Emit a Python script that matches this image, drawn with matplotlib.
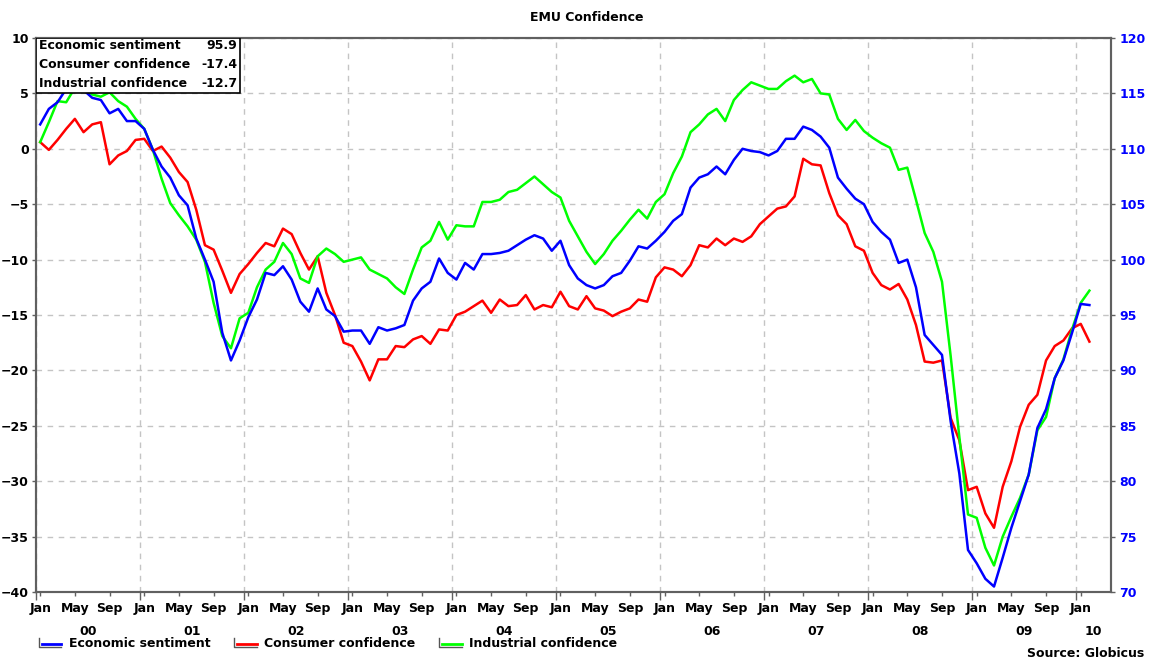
import matplotlib
matplotlib.use("Agg")
import matplotlib.pyplot as plt
import matplotlib.transforms as mtransforms
from matplotlib.lines import Line2D
from matplotlib.legend_handler import HandlerBase
from matplotlib.patches import Rectangle
import numpy as np

# monthly values, Jan 2000 - Feb 2010
esi = [
    112.2, 113.6, 114.2, 115.4, 115.6, 115.3, 114.6, 114.4, 113.2, 113.6, 112.5, 112.5,
    111.8, 109.9, 108.4, 107.4, 105.8, 104.9, 101.9, 100.0, 98.0, 93.4, 90.9, 92.7,
    94.8, 96.4, 98.8, 98.6, 99.4, 98.2, 96.2, 95.3, 97.4, 95.5, 94.9, 93.5,
    93.6, 93.6, 92.4, 93.9, 93.6, 93.8, 94.1, 96.3, 97.4, 98.0, 100.1, 98.8,
    98.2, 99.7, 99.1, 100.5, 100.5, 100.6, 100.8, 101.3, 101.8, 102.2, 101.9, 100.8,
    101.7, 99.5, 98.3, 97.7, 97.4, 97.7, 98.5, 98.8, 99.9, 101.2, 101.0, 101.7,
    102.5, 103.5, 104.1, 106.5, 107.4, 107.7, 108.4, 107.7, 109.0, 110.0, 109.8, 109.7,
    109.4, 109.8, 110.9, 110.9, 112.0, 111.7, 111.1, 110.1, 107.4, 106.4, 105.5, 105.0,
    103.4, 102.5, 101.8, 99.7, 100.0, 97.5, 93.2, 92.3, 91.4, 85.4, 80.7, 73.8,
    72.6, 71.2, 70.5, 73.1, 75.8, 78.2, 80.6, 84.8, 86.5, 89.3, 90.9, 93.4,
    96.0, 95.9,
]
consumer = [
    0.6, -0.1, 0.8, 1.8, 2.7, 1.5, 2.2, 2.4, -1.4, -0.6, -0.2, 0.8,
    0.9, -0.2, 0.2, -0.8, -2.1, -3.0, -5.5, -8.7, -9.1, -11.0, -13.0, -11.3,
    -10.4, -9.4, -8.5, -8.8, -7.2, -7.7, -9.4, -10.9, -9.7, -13.0, -15.0, -17.5,
    -17.8, -19.2, -20.9, -19.0, -19.0, -17.8, -17.9, -17.2, -16.9, -17.6, -16.3, -16.4,
    -15.0, -14.7, -14.2, -13.7, -14.8, -13.6, -14.2, -14.1, -13.2, -14.5, -14.1, -14.3,
    -12.9, -14.2, -14.5, -13.3, -14.4, -14.6, -15.1, -14.7, -14.4, -13.6, -13.8, -11.6,
    -10.7, -10.9, -11.5, -10.5, -8.7, -8.9, -8.1, -8.7, -8.1, -8.4, -7.9, -6.8,
    -6.1, -5.4, -5.2, -4.3, -0.9, -1.4, -1.5, -4.0, -6.0, -6.8, -8.8, -9.2,
    -11.2, -12.3, -12.7, -12.2, -13.6, -15.9, -19.2, -19.3, -19.1, -24.3, -26.3, -30.8,
    -30.5, -32.9, -34.2, -30.5, -28.2, -25.1, -23.1, -22.2, -19.1, -17.8, -17.3, -16.2,
    -15.8, -17.4,
]
industrial = [
    0.6, 2.4, 4.3, 4.2, 5.5, 5.4, 4.9, 4.7, 5.1, 4.3, 3.8, 2.7,
    1.8, -0.1, -2.7, -4.9, -6.0, -7.0, -8.2, -10.2, -13.9, -16.9, -18.0, -15.3,
    -14.8, -12.5, -10.9, -10.2, -8.5, -9.5, -11.7, -12.1, -9.7, -9.0, -9.5, -10.2,
    -10.0, -9.8, -10.9, -11.3, -11.7, -12.5, -13.1, -10.9, -8.9, -8.3, -6.6, -8.2,
    -6.9, -7.0, -7.0, -4.8, -4.8, -4.6, -3.9, -3.7, -3.1, -2.5, -3.2, -3.9,
    -4.4, -6.5, -7.9, -9.3, -10.4, -9.5, -8.3, -7.4, -6.4, -5.5, -6.3, -4.8,
    -4.1, -2.2, -0.7, 1.5, 2.2, 3.1, 3.6, 2.5, 4.4, 5.3, 6.0, 5.7,
    5.4, 5.4, 6.1, 6.6, 6.0, 6.3, 5.0, 4.9, 2.7, 1.7, 2.6, 1.6,
    1.0, 0.5, 0.1, -1.9, -1.7, -4.6, -7.6, -9.3, -12.0, -18.7, -26.0, -33.0,
    -33.3, -36.0, -37.6, -35.0, -33.2, -31.5, -29.4, -25.4, -24.2, -20.7, -19.0, -16.3,
    -13.9, -12.8,
]
month_labels = ["Jan", "May", "Sep"]
year_labels = ["00", "01", "02", "03", "04", "05", "06", "07", "08", "09", "10"]
series_names = ["Economic sentiment", "Consumer confidence", "Industrial confidence"]
latest_values = ["95.9", "-17.4", "-12.7"]

BLUE = "#0000ff"
RED = "#ff0000"
GREEN = "#00ff00"
GRID = "#c4c4c4"
FRAME = "#606060"

plt.rcParams["font.family"] = "DejaVu Sans"
plt.rcParams["font.weight"] = "bold"
plt.rcParams["font.size"] = 9


class BracketHandler(HandlerBase):
    # coloured line with a small grey bracket, like the original legend keys
    def create_artists(self, legend, orig_handle, xdescent, ydescent,
                       width, height, fontsize, trans):
        x0, y0 = -xdescent, -ydescent
        frame = Line2D([x0, x0, x0 + width], [y0 + height, y0, y0],
                       color="#555555", lw=1, transform=trans)
        line = Line2D([x0 + 2, x0 + width], [y0 + 0.3 * height] * 2,
                      color=orig_handle.get_color(), lw=2, transform=trans)
        return [frame, line]


months = np.arange(len(esi)) + 0.5
xmax = 124

fig, ax = plt.subplots(figsize=(11.49, 6.66), dpi=100)
fig.subplots_adjust(left=0.0312, right=0.967, top=0.943, bottom=0.111)
ax2 = ax.twinx()

l_con, = ax.plot(months, consumer, color=RED, lw=1.8)
l_ind, = ax.plot(months, industrial, color=GREEN, lw=1.8)
l_esi, = ax2.plot(months, esi, color=BLUE, lw=1.8)

ax.set_xlim(0, xmax)
ax.set_ylim(-40, 10)
ax2.set_ylim(70, 120)
ax.set_yticks(range(-40, 11, 5))
ax2.set_yticks(range(70, 121, 5))

# month ticks in the middle of Jan / May / Sep, long ticks at year boundaries
pos, labs = [], []
for y in range(len(year_labels)):
    for k, name in zip((0, 4, 8), month_labels):
        p = y * 12 + k + 0.5
        if p < xmax:
            pos.append(p)
            labs.append(name)
ax.set_xticks(pos)
ax.set_xticklabels(labs)
ax.set_xticks(range(0, xmax, 12), minor=True)
ax.tick_params(axis="x", which="major", length=3, width=1, color=FRAME, pad=4)
ax.tick_params(axis="x", which="minor", length=6, width=1, color=FRAME)
ax.tick_params(axis="y", length=3, width=1, color=FRAME, pad=2)
ax2.tick_params(axis="y", length=3, width=1, color=FRAME, pad=3, labelcolor=BLUE)

ax.xaxis.grid(True, which="minor", ls=(0, (4, 4)), color=GRID, lw=1)
ax.yaxis.grid(True, which="major", ls=(0, (4, 4)), color=GRID, lw=1)
ax.set_axisbelow(True)

for a in (ax, ax2):
    for s in a.spines.values():
        s.set_color(FRAME)
        s.set_linewidth(1.5)

trans = mtransforms.blended_transform_factory(ax.transData, ax.transAxes)
for i, yl in enumerate(year_labels):
    start = 12 * i
    end = min(start + 12, xmax)
    ax.text((start + end) / 2, -0.071, yl, transform=trans, ha="center", va="center")

# summary box with latest readings
box = Rectangle((0, 0.9007), 0.19, 0.0993, transform=ax2.transAxes,
                facecolor="white", edgecolor="black", lw=1.2, zorder=5)
ax2.add_patch(box)
for i, (name, val) in enumerate(zip(series_names, latest_values)):
    yy = 0.9856 - i * 0.0343
    ax2.text(0.003, yy, name, transform=ax2.transAxes, ha="left", va="center", zorder=6)
    ax2.text(0.1872, yy, val, transform=ax2.transAxes, ha="right", va="center", zorder=6)

fig.text(0.511, 0.973, "EMU Confidence", ha="center", va="center")
fig.text(0.996, 0.009, "Source: Globicus", ha="right", va="bottom")

fig.legend([l_esi, l_con, l_ind], series_names, loc="center left",
           bbox_to_anchor=(0.024, 0.034), ncol=3, frameon=False,
           handlelength=1.8, handletextpad=0.6, columnspacing=1.9,
           handler_map={Line2D: BracketHandler()})

fig.savefig("out.png", dpi=100)
